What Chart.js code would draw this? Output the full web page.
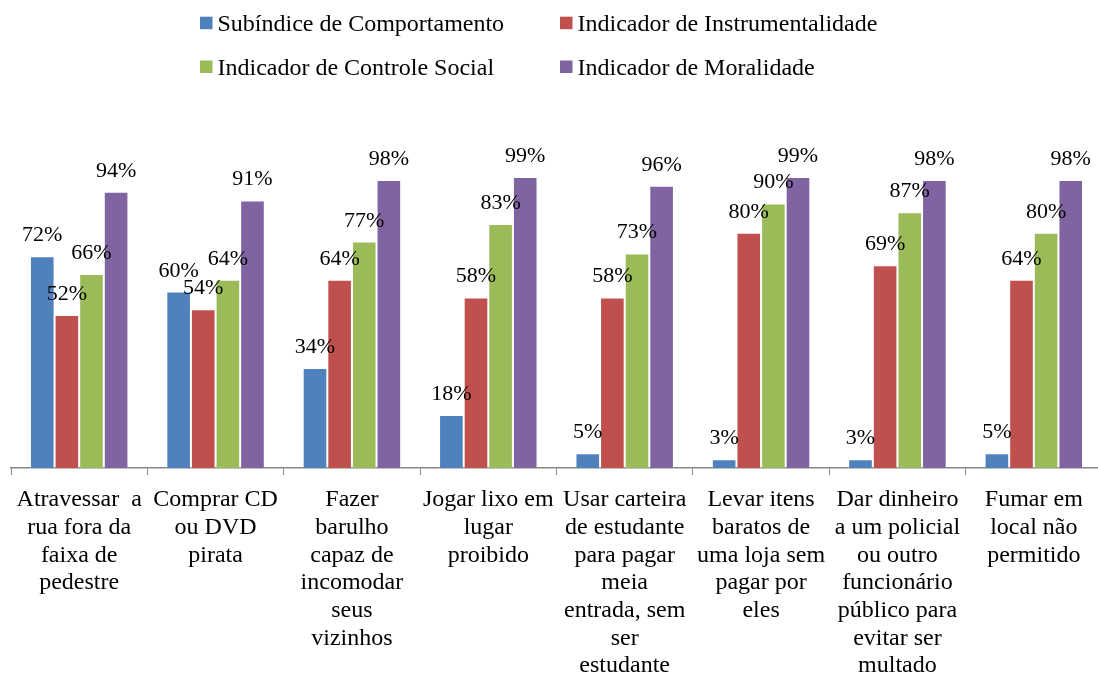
<!DOCTYPE html>
<html>
<head>
<meta charset="utf-8">
<script src="https://cdn.jsdelivr.net/npm/chart.js@4/dist/chart.umd.min.js"></script>
<style>
  html, body { margin: 0; padding: 0; background: #fff; overflow: hidden; }
</style>
</head>
<body>
<canvas id="grafico" width="1103" height="678"></canvas>
<script>
// Categorias (eixo X)
const categorias = [
    ["Atravessar  a", "rua fora da", "faixa de", "pedestre"],
    ["Comprar CD", "ou DVD", "pirata"],
    ["Fazer", "barulho", "capaz de", "incomodar", "seus", "vizinhos"],
    ["Jogar lixo em", "lugar", "proibido"],
    ["Usar carteira", "de estudante", "para pagar", "meia", "entrada, sem", "ser", "estudante"],
    ["Levar itens", "baratos de", "uma loja sem", "pagar por", "eles"],
    ["Dar dinheiro", "a um policial", "ou outro", "funcionário", "público para", "evitar ser", "multado"],
    ["Fumar em", "local não", "permitido"]
];

// Series
const nomesSeries = [
    "Subíndice de Comportamento",
    "Indicador de Instrumentalidade",
    "Indicador de Controle Social",
    "Indicador de Moralidade"
];
const comportamento = [72, 60, 34, 18, 5, 3, 3, 5];
const instrumentalidade = [52, 54, 64, 58, 58, 80, 69, 64];
const controleSocial = [66, 64, 77, 83, 73, 90, 87, 80];
const moralidade = [94, 91, 98, 99, 96, 99, 98, 98];

const cores = ['#4F81BD', '#C0504D', '#9BBB59', '#8064A2'];
const fonte = '"Liberation Serif", "Times New Roman", serif';

// Rotulos de dados acima das barras
const rotulosPlugin = {
    id: 'rotulos',
    afterDatasetsDraw(chart) {
        const ctx = chart.ctx;
        ctx.save();
        ctx.font = '22px ' + fonte;
        ctx.fillStyle = '#000';
        ctx.textAlign = 'center';
        ctx.textBaseline = 'alphabetic';
        chart.data.datasets.forEach((ds, i) => {
            const meta = chart.getDatasetMeta(i);
            meta.data.forEach((bar, j) => {
                ctx.fillText(ds.data[j] + '%', bar.x, bar.y - 15);
            });
        });
        ctx.restore();
    }
};

// Legenda em duas colunas alinhadas
const legendaPlugin = {
    id: 'legendaColunas',
    afterDraw(chart) {
        const ctx = chart.ctx;
        const ds = chart.data.datasets;
        ctx.save();
        ctx.font = '24px ' + fonte;
        const caixa = 12.5, gap = 5;
        const xs = [200, 560];
        const ys = [16.7, 60.5];
        ds.forEach((d, i) => {
            const x = xs[i % 2];
            const y = ys[Math.floor(i / 2)];
            ctx.fillStyle = d.backgroundColor;
            ctx.fillRect(x, y, caixa, caixa);
            ctx.fillStyle = '#000';
            ctx.textBaseline = 'alphabetic';
            ctx.textAlign = 'left';
            ctx.fillText(d.label, x + caixa + gap, y + caixa + 2);
        });
        ctx.restore();
    }
};

const series = [comportamento, instrumentalidade, controleSocial, moralidade];

new Chart(document.getElementById('grafico'), {
    type: 'bar',
    data: {
        labels: categorias,
        datasets: series.map((valores, i) => ({
            label: nomesSeries[i],
            data: valores,
            backgroundColor: cores[i],
            borderColor: 'rgba(255,255,255,0.35)',
            borderWidth: 1,
            categoryPercentage: 0.722,
            barPercentage: 1.0
        }))
    },
    options: {
        responsive: false,
        animation: false,
        devicePixelRatio: 1,
        layout: { padding: { top: 174, left: 11, right: 1, bottom: 0 } },
        plugins: {
            legend: { display: false },
            tooltip: { enabled: false }
        },
        scales: {
            x: {
                grid: {
                    display: true,
                    drawOnChartArea: false,
                    drawTicks: true,
                    tickLength: 7,
                    color: '#868686',
                    offset: true
                },
                border: { display: true, color: '#868686', width: 1.5 },
                ticks: {
                    autoSkip: false,
                    maxRotation: 0,
                    minRotation: 0,
                    padding: 11,
                    color: '#000',
                    font: { family: fonte, size: 24, lineHeight: '27.7px' }
                },
                afterFit(scale) { scale.height = 210; }
            },
            y: {
                display: false,
                min: 0,
                max: 100
            }
        }
    },
    plugins: [rotulosPlugin, legendaPlugin]
});
</script>
</body>
</html>
